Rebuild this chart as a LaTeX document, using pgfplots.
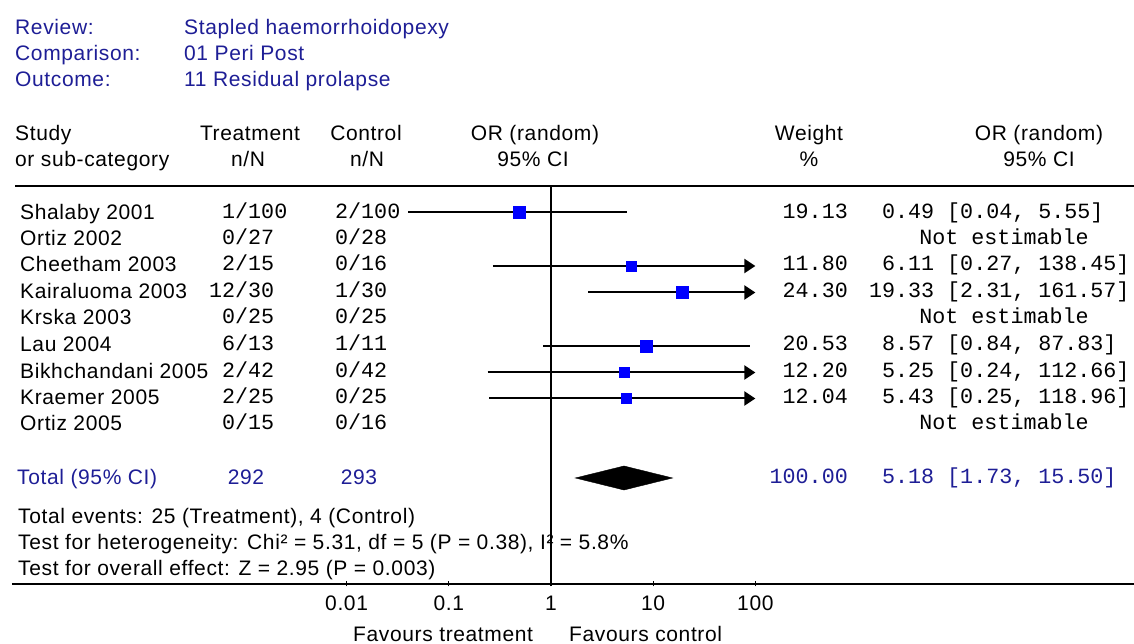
\documentclass[border=0pt]{standalone}
\usepackage{pgfplots}
\pgfplotsset{compat=1.18}
\usepackage{fontspec}
\setmainfont{Liberation Sans}
\usetikzlibrary{arrows.meta}
\newfontfamily\sansf[LetterSpace=3]{Liberation Sans}
\newfontfamily\monof{Liberation Mono}
\newcommand\SF{\sansf\fontsize{21}{25}\selectfont}
\newcommand\MF{\monof\fontsize{21.7}{26}\selectfont}
\definecolor{hblue}{RGB}{30,30,150}
\newcommand\TL[3]{\node[anchor=base west,inner sep=0] at (#1,#2) {#3};}
\newcommand\TC[3]{\node[anchor=base,inner sep=0] at (#1,#2) {#3};}
\newcommand\TR[3]{\node[anchor=base east,inner sep=0] at (#1,#2) {#3};}
\begin{document}
\begin{tikzpicture}[x=1pt,y=1pt]
\useasboundingbox (0,0) rectangle (1134,644);
\fill[white] (0,0) rectangle (1134,644);
% header block
\begin{scope}[font=\SF, text=hblue]
\TL{15}{609.5}{Review:}
\TL{15}{583.5}{Comparison:}
\TL{15}{557.5}{Outcome:}
\TL{184}{609.5}{Stapled haemorrhoidopexy}
\TL{184}{583.5}{01 Peri Post}
\TL{184}{557.5}{11 Residual prolapse}
\end{scope}
\begin{scope}[font=\SF]
\TL{15}{503.5}{Study}
\TL{15}{477.5}{or sub-category}
\TC{250}{503.5}{Treatment}
\TC{248}{477.5}{n/N}
\TC{366}{503.5}{Control}
\TC{367}{477.5}{n/N}
\TC{535}{503.5}{OR (random)}
\TC{533}{477.5}{95\% CI}
\TC{809}{503.5}{Weight}
\TC{809}{477.5}{\%}
\TC{1039}{503.5}{OR (random)}
\TC{1039}{477.5}{95\% CI}
% study names
\TL{20}{424.5}{Shalaby 2001}
\TL{20}{398.5}{Ortiz 2002}
\TL{20}{372.5}{Cheetham 2003}
\TL{20}{345.5}{Kairaluoma 2003}
\TL{20}{319.5}{Krska 2003}
\TL{20}{292.5}{Lau 2004}
\TL{20}{265.5}{Bikhchandani 2005}
\TL{20}{239.5}{Kraemer 2005}
\TL{20}{213.5}{Ortiz 2005}
\TL{18}{120.5}{Total events: 25 (Treatment), 4 (Control)}
\TL{18}{94.5}{Test for heterogeneity: Chi² = 5.31, df = 5 (P = 0.38), I² = 5.8\%}
\TL{18}{68.5}{Test for overall effect: Z = 2.95 (P = 0.003)}
\TL{353}{2.5}{Favours treatment}
\TL{569}{2.5}{Favours control}
\end{scope}
\begin{scope}[font=\SF, text=hblue]
\TL{17}{159.5}{Total (95\% CI)}
\TC{246}{159.5}{292}
\TC{359}{159.5}{293}
\end{scope}
\begin{scope}[font=\MF]
\TL{235}{425.5}{\llap{1}/100}
\TL{235}{399.5}{\llap{0}/27}
\TL{235}{373.5}{\llap{2}/15}
\TL{235}{346.5}{\llap{12}/30}
\TL{235}{320.5}{\llap{0}/25}
\TL{235}{293.5}{\llap{6}/13}
\TL{235}{266.5}{\llap{2}/42}
\TL{235}{240.5}{\llap{2}/25}
\TL{235}{214.5}{\llap{0}/15}
\TL{348}{425.5}{\llap{2}/100}
\TL{348}{399.5}{\llap{0}/28}
\TL{348}{373.5}{\llap{0}/16}
\TL{348}{346.5}{\llap{1}/30}
\TL{348}{320.5}{\llap{0}/25}
\TL{348}{293.5}{\llap{1}/11}
\TL{348}{266.5}{\llap{0}/42}
\TL{348}{240.5}{\llap{0}/25}
\TL{348}{214.5}{\llap{0}/16}
\TR{848}{425.5}{19.13}
\TR{848}{373.5}{11.80}
\TR{848}{346.5}{24.30}
\TR{848}{293.5}{20.53}
\TR{848}{266.5}{12.20}
\TR{848}{240.5}{12.04}
\TL{934}{425.5}{\llap{0.49} [0.04, 5.55]}
\TC{1004}{399.5}{Not estimable}
\TL{934}{373.5}{\llap{6.11} [0.27, 138.45]}
\TL{934}{346.5}{\llap{19.33} [2.31, 161.57]}
\TC{1004}{320.5}{Not estimable}
\TL{934}{293.5}{\llap{8.57} [0.84, 87.83]}
\TL{934}{266.5}{\llap{5.25} [0.24, 112.66]}
\TL{934}{240.5}{\llap{5.43} [0.25, 118.96]}
\TC{1004}{214.5}{Not estimable}
\end{scope}
\begin{scope}[font=\MF, text=hblue]
\TR{848}{160.5}{100.00}
\TL{934}{160.5}{\llap{5.18} [1.73, 15.50]}
\end{scope}
\draw[line width=1.6pt] (15,458) -- (1134,458);
\begin{axis}[at={(12pt,60pt)}, anchor=south west, scale only axis,
  width=1122pt, height=398pt, xmode=log, xmin=5.32e-6, xmax=5.07e5,
  ymin=60, ymax=458, axis y line=none, ytick=\empty, axis x line=bottom,
  axis line style={-, line width=2pt},
  xtick={0.01,0.1,1,10,100}, xticklabels={0.01,0.1,1,10,100},
  xticklabel style={font=\SF, anchor=base, yshift=-24pt},
  major tick length=5pt, tick style={line width=1.2pt, black},
  minor x tick style={draw=none}, clip=false]
\addplot[black, line width=1.8pt] coordinates {(1,60) (1,458)};
\addplot[black, line width=2pt] coordinates {(0.04,431.5) (5.55,431.5)};
\addplot[black, line width=2pt, -{Triangle[length=11pt,width=14pt]}] coordinates {(0.27,378) (100,378)};
\addplot[black, line width=2pt, -{Triangle[length=11pt,width=14pt]}] coordinates {(2.31,351.5) (100,351.5)};
\addplot[black, line width=2pt] coordinates {(0.84,298) (87.83,298)};
\addplot[black, line width=2pt, -{Triangle[length=11pt,width=14pt]}] coordinates {(0.24,271.5) (100,271.5)};
\addplot[black, line width=2pt, -{Triangle[length=11pt,width=14pt]}] coordinates {(0.25,245.5) (100,245.5)};
\addplot[only marks, mark=square*, mark size=6pt, mark options={draw=blue, fill=blue}] coordinates {(0.49,431.5)};
\addplot[only marks, mark=square*, mark size=5pt, mark options={draw=blue, fill=blue}] coordinates {(6.11,378)};
\addplot[only marks, mark=square*, mark size=6.2pt, mark options={draw=blue, fill=blue}] coordinates {(19.33,351.5)};
\addplot[only marks, mark=square*, mark size=6pt, mark options={draw=blue, fill=blue}] coordinates {(8.57,298)};
\addplot[only marks, mark=square*, mark size=5pt, mark options={draw=blue, fill=blue}] coordinates {(5.25,271.5)};
\addplot[only marks, mark=square*, mark size=5.2pt, mark options={draw=blue, fill=blue}] coordinates {(5.43,245.5)};
\addplot[fill=black, draw=black] coordinates {(1.73,166) (5.18,178) (15.50,166) (5.18,154)} -- cycle;
\end{axis}
\end{tikzpicture}
\end{document}
